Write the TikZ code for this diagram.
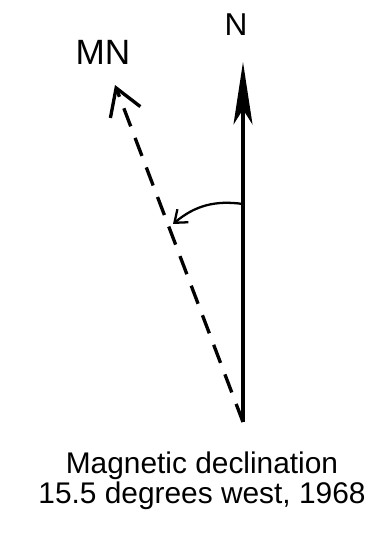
\documentclass[tikz,border=0pt]{standalone}
\usepackage{fontspec}
\setmainfont{Liberation Sans}
\usetikzlibrary{arrows.meta}

\begin{document}
\begin{tikzpicture}[x=0.02cm, y=-0.02cm]
\useasboundingbox (0,0) rectangle (385,550);
\coordinate (base) at (243,422);
\coordinate (ntip) at (243,62);
\coordinate (mtip) at (115,85);
\coordinate (arcstart) at (243,204);
\coordinate (arcend) at (173,224);
\node[font=\fontsize{18}{20}\selectfont] (north) at (236,25) {N};
\node[font=\fontsize{20}{22}\selectfont] (magnorth) at (103,52) {MN};
\node[align=center, font=\fontsize{17}{17}\selectfont] (caption) at (202,481) {
    Magnetic declination\\
    15.5 degrees west, 1968
};

\draw[line width=1.9pt, -{Stealth[length=1.25cm, width=0.38cm, inset=0.3cm]}] (base) -- (ntip);
\draw[line width=1.9pt, dash pattern=on 11pt off 7pt, -{Straight Barb[length=0.52cm, width=0.64cm]}] (base) -- (mtip);
\draw[line width=1.3pt, -{Straight Barb[length=0.22cm, width=0.34cm]}] (arcstart) to[out=172, in=40] (arcend);
\end{tikzpicture}
\end{document}
